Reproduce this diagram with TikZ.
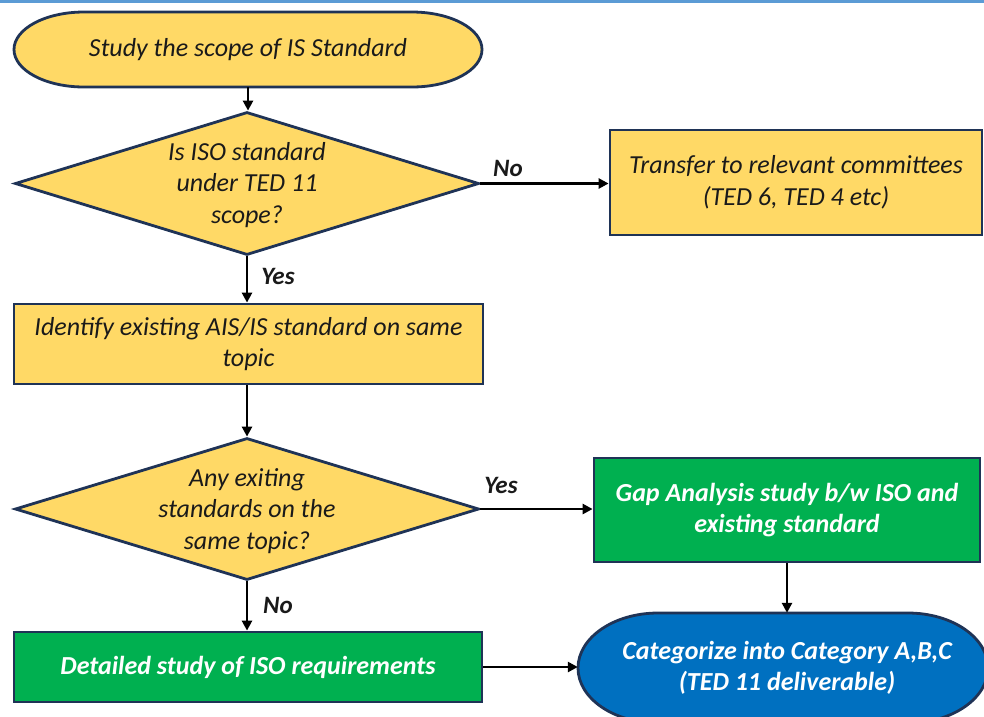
\documentclass[tikz,border=0pt]{standalone}
\usepackage{fontspec}
\setmainfont{Carlito}
\usetikzlibrary{arrows.meta,shapes.geometric}
\definecolor{yel}{HTML}{FFD966}
\definecolor{grn}{HTML}{00B050}
\definecolor{blu}{HTML}{0070C0}
\definecolor{edgecol}{HTML}{1F3356}
\definecolor{topline}{HTML}{5B9BD5}
\definecolor{ink}{HTML}{1A1A1A}
\begin{document}
\begin{tikzpicture}[x=1pt,y=-1pt,
  txt/.style={font=\fontsize{26}{31.5}\selectfont\itshape, text=ink, align=center},
  wtxt/.style={font=\fontsize{26}{31.5}\selectfont\bfseries\itshape, text=white, align=center},
  lbl/.style={font=\fontsize{25}{28}\selectfont\bfseries\itshape, text=ink},
  shapeline/.style={draw=edgecol, line width=2.8pt},
  boxnode/.style={rectangle, shapeline, inner sep=0pt},
  anchorbox/.style={rectangle, draw=none, inner sep=0pt},
  decision/.style={diamond, shapeline, fill=yel, inner sep=0pt},
  arr/.style={draw=black, line width=2.5pt, -{Triangle[length=10pt,width=10pt]}}
]
\useasboundingbox (0,0) rectangle (984,716);
\clip (0,0) rectangle (984,716);
\fill[white] (0,0) rectangle (984,716);
\fill[topline] (0,0) rectangle (984,2.5);

% Terminator 1
\path[shapeline, fill=yel] (84,12) -- (412,12)
  arc[start angle=90, end angle=-90, x radius=70pt, y radius=37.5pt]
  -- (84,87)
  arc[start angle=270, end angle=90, x radius=70pt, y radius=37.5pt] -- cycle;
\node[anchorbox, txt, minimum width=468pt, minimum height=75pt] (t1) at (248,49.5) {Study the scope of IS Standard};

% Decision 1
\node[decision, minimum width=464pt, minimum height=143pt] (d1) at (247,183.5) {};
\node[txt] (d1t) at (247,185) {Is ISO standard\\under TED 11\\scope?};

% Transfer box
\node[boxnode, fill=yel, txt, minimum width=372pt, minimum height=105pt] (tr) at (796,182.5) {Transfer to relevant committees\\(TED 6, TED 4 etc)};

% Identify box
\node[boxnode, fill=yel, txt, minimum width=469pt, minimum height=80pt] (id) at (248.5,344) {Identify existing AIS/IS standard on same\\topic};

% Decision 2
\node[decision, minimum width=464pt, minimum height=142pt] (d2) at (247,509) {};
\node[txt] (d2t) at (247,511) {Any exiting\\standards on the\\same topic?};

% Gap box
\node[boxnode, fill=grn, wtxt, minimum width=386pt, minimum height=104pt] (gap) at (787,510) {Gap Analysis study b/w ISO and\\existing standard};

% Detailed box
\node[boxnode, fill=grn, wtxt, minimum width=468pt, minimum height=70pt] (det) at (248,667) {Detailed study of ISO requirements};

% Terminator 2 (blue)
\path[shapeline, fill=blu] (658,613) -- (908,613)
  arc[start angle=90, end angle=-90, x radius=80pt, y radius=55pt]
  -- (658,723)
  arc[start angle=270, end angle=90, x radius=80pt, y radius=55pt] -- cycle;
\node[anchorbox, wtxt, minimum width=410pt, minimum height=110pt] (cat) at (783,668) {\hspace*{8pt}Categorize into Category A,B,C\\\hspace*{8pt}(TED 11 deliverable)};

% Connectors
\draw[arr] (t1.south) -- (t1.south |- d1.north);
\draw[arr] (d1.east) -- (d1.east -| tr.west);
\draw[arr] (d1.south) -- (d1.south |- id.north);
\draw[arr] (id.south -| d2.north) -- (d2.north);
\draw[arr] (d2.east) -- (d2.east -| gap.west);
\draw[arr] (d2.south) -- (d2.south |- det.north);
\draw[arr] (gap.south) -- (gap.south |- cat.north);
\draw[arr] (det.east) -- (det.east -| cat.west);

% Labels
\node[lbl] (lno1) at (508,168) {No};
\node[lbl] (lyes1) at (278,276) {Yes};
\node[lbl] (lyes2) at (501,485) {Yes};
\node[lbl] (lno2) at (278,605) {No};
\end{tikzpicture}
\end{document}
